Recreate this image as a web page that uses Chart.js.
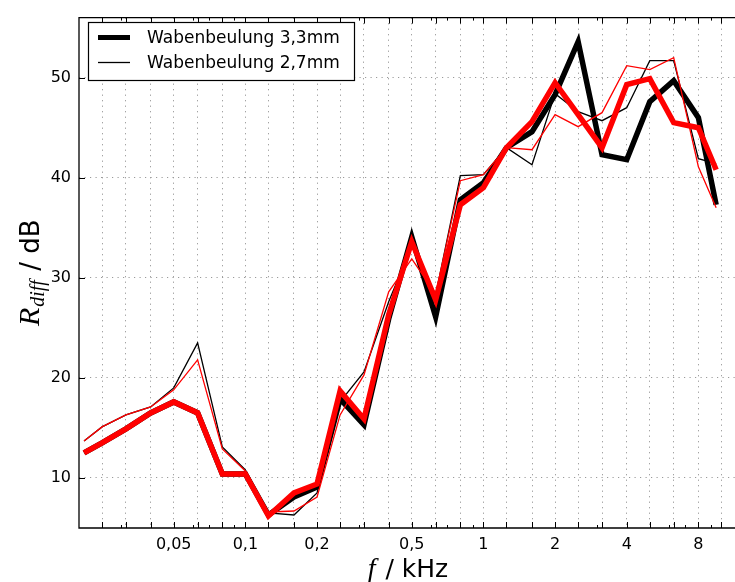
<!DOCTYPE html>
<html>
<head>
<meta charset="utf-8">
<script src="https://cdn.jsdelivr.net/npm/chart.js@4.4.0/dist/chart.umd.min.js"></script>
<style>
  html, body { margin: 0; padding: 0; background: #fff; }
  #wrap { width: 735px; height: 582px; }
</style>
</head>
<body>
<div id="wrap"><canvas id="chart"></canvas></div>
<script>
'use strict';

// Third-octave frequencies in kHz (end points)
const freqs = [0.021, 0.025, 0.0315, 0.04, 0.05, 0.063, 0.08, 0.1, 0.125, 0.16, 0.2, 0.25, 0.315, 0.4,
               0.5, 0.63, 0.8, 1, 1.25, 1.6, 2, 2.5, 3.15, 4, 5, 6.3, 8, 9.5];

// Wabenbeulung 3,3mm (thick black)
const thickBlack = [12.5, 13.5, 14.9, 16.5, 17.6, 16.5, 10.4, 10.4, 6.3, 8.1, 9.1, 17.9, 15.3, 25.9,
                    34.1, 26.1, 37.8, 39.5, 43.0, 44.6, 48.3, 53.6, 42.3, 41.8, 47.6, 49.7, 46.0, 37.3];
// Wabenbeulung 2,7mm (thin black)
const thinBlack  = [13.7, 15.1, 16.3, 17.1, 19.0, 23.5, 13.1, 10.8, 6.5, 6.3, 8.5, 17.6, 20.6, 27.6,
                    33.2, 28.3, 40.2, 40.3, 43.0, 41.3, 48.4, 46.6, 45.7, 47.0, 51.7, 51.7, 41.9, 41.4];
// red counterparts (no legend entry)
const thickRed   = [12.5, 13.5, 14.9, 16.5, 17.6, 16.5, 10.4, 10.4, 6.2, 8.5, 9.4, 18.7, 15.9, 26.3,
                    33.6, 27.8, 37.3, 39.0, 43.0, 45.6, 49.5, 46.3, 43.0, 49.3, 49.9, 45.5, 45.0, 40.8];
const thinRed    = [13.7, 15.1, 16.3, 17.1, 18.8, 21.8, 12.9, 10.7, 6.6, 6.7, 8.1, 16.3, 20.3, 28.6,
                    31.9, 28.4, 39.7, 40.3, 43.0, 42.8, 46.3, 45.1, 46.5, 51.2, 50.8, 52.0, 41.1, 37.0];

// Axis ticks
const gridFreqs  = [0.025, 0.0315, 0.04, 0.05, 0.063, 0.08, 0.1, 0.125, 0.16, 0.2, 0.25, 0.315, 0.4,
                    0.5, 0.63, 0.8, 1, 1.25, 1.6, 2, 2.5, 3.15, 4, 5, 6.3, 8, 10];
const minorFreqs = [0.03, 0.06, 0.07, 0.09, 0.3, 0.6, 0.7, 0.9, 3, 6, 7, 9];
const xLabels    = { 0.05: '0,05', 0.1: '0,1', 0.2: '0,2', 0.5: '0,5', 1: '1', 2: '2', 4: '4', 8: '8' };
const yTicks     = [10, 20, 30, 40, 50];

const legendNames = ['Wabenbeulung 3,3mm', 'Wabenbeulung 2,7mm'];

/* ---------- helpers ---------- */
const toPoints = (arr) => freqs.map((f, i) => ({ x: f, y: arr[i] }));

// drawOrder: higher value is painted first (further back)
function line(label, arr, color, width, drawOrder) {
    return {
        label: label,
        data: toPoints(arr),
        borderColor: color,
        backgroundColor: color,
        borderWidth: width,
        borderJoinStyle: 'miter',
        pointRadius: 0,
        tension: 0,
        fill: false,
        order: drawOrder
    };
}

// inward tick marks + frame
const frameTicks = {
    id: 'frameTicks',
    afterDatasetsDraw(chart) {
        const { ctx, chartArea: a, scales: { x, y } } = chart;
        ctx.save();
        ctx.strokeStyle = '#000';
        ctx.lineWidth = 1;
        ctx.beginPath();
        gridFreqs.forEach(function (f) {
            const px = Math.round(x.getPixelForValue(f)) + 0.5;
            ctx.moveTo(px, a.bottom); ctx.lineTo(px, a.bottom - 6);
            ctx.moveTo(px, a.top);    ctx.lineTo(px, a.top + 6);
        });
        minorFreqs.forEach(function (f) {
            const px = Math.round(x.getPixelForValue(f)) + 0.5;
            ctx.moveTo(px, a.bottom); ctx.lineTo(px, a.bottom - 3);
            ctx.moveTo(px, a.top);    ctx.lineTo(px, a.top + 3);
        });
        yTicks.forEach(function (v) {
            const py = Math.round(y.getPixelForValue(v)) + 0.5;
            ctx.moveTo(a.left, py); ctx.lineTo(a.left + 6, py);
        });
        ctx.stroke();

        ctx.lineWidth = 1.3;
        ctx.beginPath();
        ctx.moveTo(a.right + 2, a.top);
        ctx.lineTo(a.left, a.top);
        ctx.lineTo(a.left, a.bottom);
        ctx.lineTo(a.right + 2, a.bottom);
        ctx.stroke();
        ctx.restore();
    }
};

// legend box (black series only) and mixed-font axis titles
const decorations = {
    id: 'decorations',
    afterDraw(chart) {
        const { ctx, chartArea: a } = chart;
        ctx.save();

        // legend
        const lx = 88.5, ly = 22.5, lw = 266, lh = 58;
        ctx.fillStyle = '#fff';
        ctx.fillRect(lx, ly, lw, lh);
        ctx.strokeStyle = '#000';
        ctx.lineWidth = 1.2;
        ctx.strokeRect(lx, ly, lw, lh);
        const rows = [{ y: 37.5, w: 5 }, { y: 62.5, w: 1.3 }];
        ctx.font = '17px "DejaVu Sans"';
        ctx.textBaseline = 'middle';
        ctx.fillStyle = '#000';
        rows.forEach(function (r, i) {
            ctx.lineWidth = r.w;
            ctx.beginPath();
            ctx.moveTo(98, r.y); ctx.lineTo(130, r.y);
            ctx.stroke();
            ctx.fillText(legendNames[i], 147, r.y + 1);
        });

        // x title: f / kHz
        ctx.textBaseline = 'alphabetic';
        const fFont = 'italic 28px "Liberation Serif"';
        const sFont = '25px "DejaVu Sans"';
        ctx.font = fFont; const wf = ctx.measureText('f').width;
        ctx.font = sFont; const ws = ctx.measureText(' / kHz').width;
        let cx = (a.left + a.right) / 2 - (wf + ws) / 2;
        ctx.font = fFont; ctx.fillText('f', cx, 577);
        ctx.font = sFont; ctx.fillText(' / kHz', cx + wf + 2, 577);

        // y title: R_diff / dB
        const rFont = 'italic 30px "Liberation Serif"';
        const subFont = 'italic 20px "Liberation Serif"';
        const dFont = '26px "DejaVu Sans"';
        ctx.font = rFont;   const wr = ctx.measureText('R').width;
        ctx.font = subFont; const wd = ctx.measureText('diff').width;
        ctx.font = dFont;   const wb = ctx.measureText(' / dB').width;
        const total = wr + wd + wb + 2;
        ctx.translate(39, (a.top + a.bottom) / 2);
        ctx.rotate(-Math.PI / 2);
        let tx = -total / 2;
        ctx.font = rFont;   ctx.fillText('R', tx, 0); tx += wr + 1;
        ctx.font = subFont; ctx.fillText('diff', tx, 5); tx += wd + 1;
        ctx.font = dFont;   ctx.fillText(' / dB', tx, 0);
        ctx.restore();
    }
};

/* ---------- chart ---------- */
Chart.defaults.font.family = '"DejaVu Sans"';
Chart.defaults.color = '#000';

new Chart(document.getElementById('chart'), {
    type: 'line',
    data: {
        datasets: [
            line(legendNames[0], thickBlack, '#000000', 5.5, 4),
            line(legendNames[1], thinBlack, '#000000', 1.3, 3),
            line('3,3mm (rot)', thickRed, '#ff0000', 5.5, 2),
            line('2,7mm (rot)', thinRed, '#ff0000', 1.3, 1)
        ]
    },
    options: {
        responsive: true,
        maintainAspectRatio: false,
        animation: false,
        events: [],
        layout: { padding: { top: 13, left: 0, right: 0, bottom: 0 } },
        plugins: { legend: { display: false }, tooltip: { enabled: false } },
        scales: {
            x: {
                type: 'logarithmic',
                min: 0.02,
                max: 11.4,
                afterBuildTicks: (s) => { s.ticks = gridFreqs.map((v) => ({ value: v })); },
                afterFit: (s) => { s.height = 54; },
                grid: { color: '#9a9a9a', lineWidth: 1, drawTicks: false },
                border: { display: false, dash: [1.2, 4.3] },
                ticks: {
                    autoSkip: false,
                    maxRotation: 0,
                    padding: 7,
                    font: { size: 16 },
                    callback: (v) => xLabels[v] || ''
                }
            },
            y: {
                min: 5,
                max: 56,
                afterBuildTicks: (s) => { s.ticks = yTicks.map((v) => ({ value: v })); },
                afterFit: (s) => { s.width = 79; },
                grid: { color: '#9a9a9a', lineWidth: 1, drawTicks: false },
                border: { display: false, dash: [1.2, 4.3] },
                ticks: { padding: 8, font: { size: 16 }, callback: (v) => String(v) }
            }
        }
    },
    plugins: [frameTicks, decorations]
});
</script>
</body>
</html>
